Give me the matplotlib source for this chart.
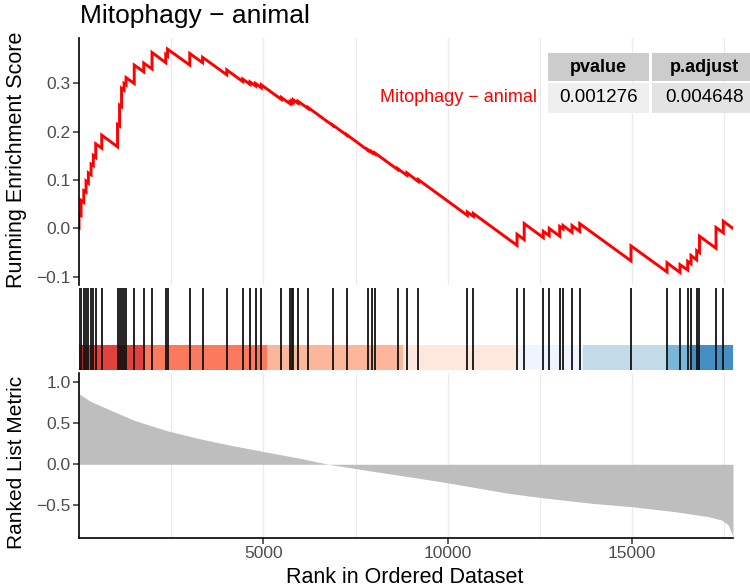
import matplotlib
matplotlib.use("Agg")
import matplotlib.pyplot as plt
from matplotlib.patches import Rectangle

plt.rcParams['font.family'] = ['Liberation Sans', 'DejaVu Sans']

# ---- data ----
title = "Mitophagy − animal"
n_genes = 17738

hit_rank = [1, 56, 129, 191, 254, 327, 389, 454, 617,
            1045, 1100, 1154, 1222, 1276,
            1498, 1756, 1981, 2353, 2401,
            3004, 3351, 4007, 4441, 4639, 4788, 4945,
            5488, 5724, 5770, 5813, 5941,
            6217, 6882, 7261, 7831, 7939, 8029,
            8639, 8894, 9203,
            10532, 10695,
            11880, 12075,
            12593, 12753, 13038, 13127, 13372, 13580,
            14971,
            15948, 16300, 16509, 16599, 16753, 16829,
            17277, 17475]

# running score just before / just after each hit
es_before = [0.000, 0.027, 0.054, 0.075, 0.094, 0.111, 0.130, 0.147, 0.166,
             0.169, 0.212, 0.252, 0.286, 0.297,
             0.300, 0.324, 0.330, 0.343, 0.357,
             0.338, 0.343, 0.318, 0.304, 0.298, 0.295, 0.291,
             0.267, 0.258, 0.2595, 0.2615, 0.259,
             0.248, 0.213, 0.193, 0.162, 0.157, 0.154,
             0.122, 0.110, 0.097,
             0.027, 0.025,
             -0.035, -0.023,
             -0.019, -0.015, -0.016, -0.001, -0.008, -0.006,
             -0.067,
             -0.090, -0.091, -0.086, -0.073, -0.065, -0.050,
             -0.041, -0.009]
es_after = [0.030, 0.058, 0.078, 0.098, 0.115, 0.133, 0.151, 0.175, 0.193,
            0.215, 0.255, 0.290, 0.300, 0.312,
            0.338, 0.342, 0.364, 0.360, 0.371,
            0.362, 0.354, 0.328, 0.309, 0.303, 0.300, 0.297,
            0.271, 0.262, 0.264, 0.266, 0.263,
            0.250, 0.214, 0.194, 0.163, 0.159, 0.156,
            0.124, 0.115, 0.101,
            0.034, 0.031,
            -0.012, 0.010,
            -0.006, 0.000, 0.004, 0.006, 0.006, 0.010,
            -0.036,
            -0.071, -0.075, -0.068, -0.056, -0.046, -0.016,
            0.002, 0.015]
es_end = 0.0

metric_rank = [1, 300, 753, 1474, 2380, 3284, 4178, 5000, 5995, 6762, 8029,
               8932, 9973, 11644, 12550, 13906, 14990, 16164, 17068, 17431,
               17610, 17702, 17738]
metric_value = [0.86, 0.77, 0.68, 0.54, 0.41, 0.31, 0.226, 0.156, 0.073,
                0.0, -0.09, -0.151, -0.224, -0.354, -0.407, -0.476, -0.517,
                -0.578, -0.639, -0.68, -0.74, -0.84, -0.88]

band_edges = [1, 200, 1745, 5092, 8797, 11888, 13678, 15940, 16618, 17738]
band_colors = ['#A50F15', '#DE2D26', '#FB6A4A', '#FCAE91', '#FEE5D9',
               '#EFF3FF', '#BDD7E7', '#6BAED6', '#3182BD']

table_header = ["pvalue", "p.adjust"]
table_values = ["0.001276", "0.004648"]

# ---- layout helpers (pixel boxes on a 750x588 canvas) ----
W, H = 750, 588


def box(left, top, right, bottom):
    return [left / W, 1 - bottom / H, (right - left) / W, (bottom - top) / H]


def fx(x):
    return x / W


def fy(y):
    return 1 - y / H


fig = plt.figure(figsize=(7.5, 5.88), dpi=100)
ax1 = fig.add_axes(box(79, 38, 733, 285))
ax2 = fig.add_axes(box(79, 285, 733, 373))
ax3 = fig.add_axes(box(79, 373, 733, 538))

grid_kw = dict(color='#ebebeb', linewidth=0.9)
tick_kw = dict(length=4, width=1.1, color='#333333', labelsize=12.5,
               labelcolor='#4d4d4d', pad=2)

# running enrichment score
xs = [0]
ys = [0.0]
for r, b, a in zip(hit_rank, es_before, es_after):
    xs += [r, r]
    ys += [b, a]
xs.append(n_genes)
ys.append(es_end)
ax1.plot(xs, ys, color='red', linewidth=2.1, solid_joinstyle='miter')
ax1.set_xlim(0, n_genes)
ax1.set_ylim(-0.117, 0.394)
ax1.set_yticks([-0.1, 0.0, 0.1, 0.2, 0.3])
ax1.set_xticks([5000, 10000, 15000])
ax1.set_xticks([2500, 7500, 12500, 17500], minor=True)
ax1.grid(axis='x', which='both', **grid_kw)
ax1.set_axisbelow(True)
ax1.tick_params(axis='x', which='both', length=0, labelbottom=False)
ax1.tick_params(axis='y', **tick_kw)
for s in ['top', 'right', 'bottom']:
    ax1.spines[s].set_visible(False)
ax1.spines['left'].set_linewidth(1.2)

# hits + colour band
ax2.vlines(hit_rank, 0.034, 0.966, color='#111111', linewidth=1.3)
ax2.bar(band_edges[:-1], 0.318 - 0.034,
        width=[b - a for a, b in zip(band_edges[:-1], band_edges[1:])],
        bottom=0.034, align='edge', color=band_colors, alpha=0.9, linewidth=0)
ax2.set_xlim(0, n_genes)
ax2.set_ylim(0, 1)
ax2.axis('off')

# ranked list metric
ax3.fill_between(metric_rank, metric_value, 0, color='#bebebe', linewidth=0)
ax3.set_xlim(0, n_genes)
ax3.set_ylim(-0.899, 1.113)
ax3.set_yticks([-0.5, 0.0, 0.5, 1.0])
ax3.set_xticks([5000, 10000, 15000])
ax3.set_xticks([2500, 7500, 12500, 17500], minor=True)
ax3.grid(axis='x', which='both', **grid_kw)
ax3.set_axisbelow(True)
ax3.tick_params(axis='both', **tick_kw)
ax3.tick_params(axis='x', which='minor', length=0)
for s in ['top', 'right']:
    ax3.spines[s].set_visible(False)
ax3.spines['left'].set_linewidth(1.2)
ax3.spines['bottom'].set_linewidth(1.2)

# labels
fig.text(fx(80), fy(23), title, fontsize=19, ha='left', va='baseline')
fig.text(fx(17), fy(160), "Running Enrichment Score", rotation=90,
         fontsize=15.5, ha='center', va='center')
fig.text(fx(17), fy(462), "Ranked List Metric", rotation=90,
         fontsize=15, ha='center', va='center')
fig.text(fx(405), fy(583), "Rank in Ordered Dataset", fontsize=15.5,
         ha='center', va='baseline')

# legend label + p-value table
fig.text(fx(537), fy(98), title, color='red', fontsize=13, ha='right', va='center')
cells = [(548, 649), (652, 770)]
row_fill = ['#efefef', '#e3e3e3']
for (l, r), head, val, fill in zip(cells, table_header, table_values, row_fill):
    fig.add_artist(Rectangle((fx(l), fy(81)), (r - l) / W, 28 / H,
                             transform=fig.transFigure, facecolor='#cccccc',
                             edgecolor='none', zorder=2))
    fig.add_artist(Rectangle((fx(l), fy(113)), (r - l) / W, 30 / H,
                             transform=fig.transFigure, facecolor=fill,
                             edgecolor='none', zorder=2))
    cx = (l + min(r, 756)) / 2 if r > W else (l + r) / 2
    fig.text(fx(cx), fy(67), head, fontsize=13, fontweight='bold',
             ha='center', va='center', zorder=3)
    fig.text(fx(cx), fy(98), val, fontsize=13.5, ha='center', va='center',
             zorder=3)

fig.savefig('out.png', dpi=100)
